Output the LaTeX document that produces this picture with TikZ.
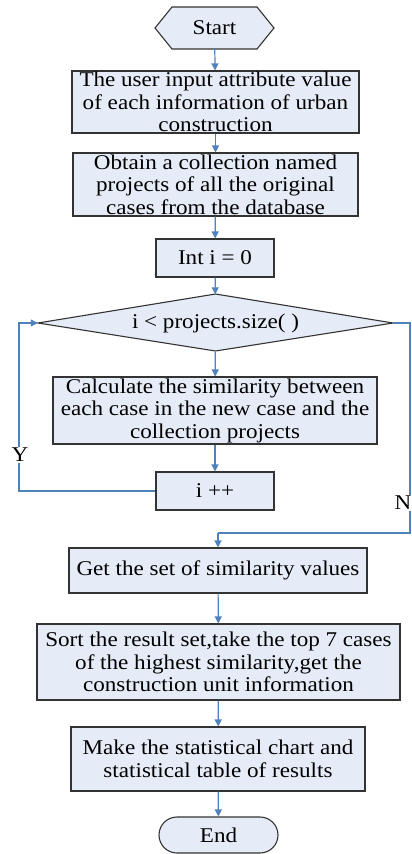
\documentclass[tikz,border=0pt]{standalone}
\usepackage{fontspec}
\setmainfont{Liberation Serif}[FakeStretch=1.1]
\usetikzlibrary{arrows.meta}
\definecolor{boxfill}{RGB}{230,236,247}
\definecolor{linkblue}{RGB}{79,129,189}
\begin{document}
\begin{tikzpicture}[x=1pt,y=-1pt,
  every node/.style={font=\fontsize{21}{22.5}\selectfont},
  procbox/.style={draw=black!80,fill=boxfill,line width=1.1pt,rectangle,inner sep=0pt,align=center},
  shapeline/.style={draw=black!80,fill=boxfill,line width=1.1pt},
  link/.style={draw=linkblue,line width=1.2pt,-{Triangle[length=7pt,width=7pt]}},
  plainlink/.style={draw=linkblue,line width=1.2pt},
  lbl/.style={fill=white,inner sep=1pt}]
\useasboundingbox (0,0) rectangle (412,854);
% Start hexagon
\draw[shapeline] (155,28) -- (172,7) -- (257,7) -- (274,28) -- (257,49) -- (172,49) -- cycle;
\node[minimum width=119pt,minimum height=42pt,inner sep=0pt] (start) at (214.5,28) {Start};
\node[procbox,minimum width=287pt,minimum height=62pt] (b1) at (215.5,102) {The user input attribute value\\of each information of urban\\construction};
\node[procbox,minimum width=285pt,minimum height=63pt] (b2) at (215.5,184.5) {Obtain a collection named\\projects of all the original\\cases from the database};
\node[procbox,minimum width=118pt,minimum height=38pt] (b3) at (215,258) {Int i = 0};
% decision diamond
\draw[shapeline] (38,323) -- (215.5,294) -- (393,323) -- (215.5,351) -- cycle;
\node[minimum width=355pt,minimum height=57pt,inner sep=0pt] (dia) at (215.5,323) {i < projects.size( )};
\node[procbox,minimum width=324pt,minimum height=67pt] (calc) at (215,410.5) {Calculate the similarity between\\each case in the new case and the\\collection projects};
\node[procbox,minimum width=118pt,minimum height=38pt] (inc) at (215,491) {i ++};
\node[procbox,minimum width=298pt,minimum height=45pt] (get) at (218,570.5) {Get the set of similarity values};
\node[procbox,minimum width=363pt,minimum height=76pt] (sort) at (218.5,662) {Sort the result set,take the top 7 cases\\of the highest similarity,get the\\construction unit information};
\node[procbox,minimum width=294pt,minimum height=64pt] (make) at (218,759) {Make the statistical chart and\\statistical table of results};
\node[procbox,rounded corners=18pt,minimum width=119pt,minimum height=36pt] (end) at (218.5,835) {End};
% coordinates
\coordinate (lt) at (19,491);
\coordinate (lb) at (19,323);
\coordinate (rt) at (410,323);
\coordinate (rb) at (410,533);
\coordinate (mj) at (218,533);
% connectors
\draw[link] (start) -- (b1);
\draw[link] (b1) -- (b2);
\draw[link] (b2) -- (b3);
\draw[link] (b3) -- (dia);
\draw[link] (dia) -- (calc);
\draw[link] (calc) -- (inc);
\draw[link] (inc.west) -- (lt) -- (lb) -- (dia.west);
\draw[plainlink] (dia.east) -- (rt) -- (rb) -- (mj);
\draw[link] (mj) -- (get.north);
\draw[link] (get) -- (sort);
\draw[link] (sort) -- (make);
\draw[link] (make) -- (end);
\node[lbl] (ylab) at (20,455) {Y};
\node[lbl] (nlab) at (403,503) {N};
\end{tikzpicture}
\end{document}
